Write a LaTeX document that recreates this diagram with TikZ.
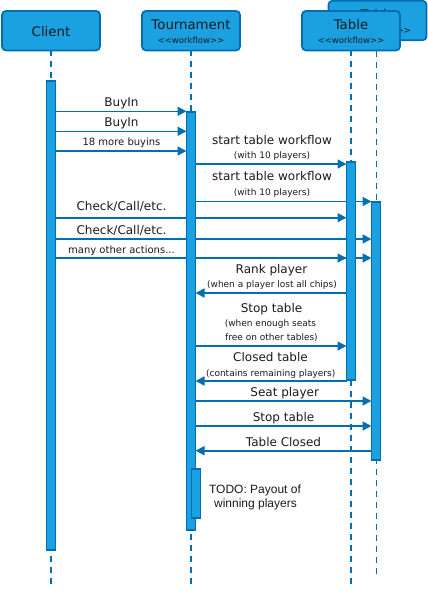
\documentclass[tikz,border=0pt]{standalone}
\usepackage{fontspec}
\setmainfont{DejaVu Sans}
\newfontfamily\stfont[Ligatures=TeXOff]{DejaVu Sans}
\newfontfamily\arialfont{Liberation Sans}
\usetikzlibrary{arrows.meta}
\definecolor{fillblue}{HTML}{1BA1E2}
\definecolor{strokeblue}{HTML}{006EAF}
\definecolor{txt}{HTML}{1A1A1A}
\newcommand{\stereotext}{<\kern0pt<workflow>\kern0pt>}
\tikzset{
 headbox/.style={draw=strokeblue, fill=fillblue, line width=1.8pt, rounded corners=4pt, minimum width=98pt, minimum height=39.5pt, inner sep=0, outer sep=0},
 actbox/.style={draw=strokeblue, fill=fillblue, line width=1.8pt, minimum width=9pt, inner sep=0, outer sep=0},
 lifeline/.style={draw=strokeblue, line width=1.8pt, dash pattern=on 6pt off 5pt},
 msg/.style={draw=strokeblue, line width=1.6pt, -{Triangle[length=9pt,width=9pt]}},
 lbl/.style={font=\fontsize{12}{14}\selectfont, text=txt, anchor=base, inner sep=0},
 sml/.style={font=\fontsize{9}{11}\selectfont, text=txt, anchor=base, inner sep=0},
 midl/.style={font=\fontsize{10}{12}\selectfont, text=txt, anchor=base, inner sep=0},
 hdr/.style={font=\fontsize{13.3}{16}\selectfont, text=txt, anchor=base, inner sep=0},
 stereo/.style={font=\stfont\fontsize{8.5}{10}\selectfont, text=txt, anchor=base, inner sep=0},
 note/.style={font=\arialfont\fontsize{12}{14}\selectfont, text=txt, anchor=base, inner sep=0},
}
\begin{document}
\begin{tikzpicture}[x=1pt, y=-1pt]
\useasboundingbox (0,0) rectangle (428,592);
% lifeline end points
\coordinate (eC) at (51,585);
\coordinate (eT) at (191,585);
\coordinate (eTf) at (351,585);
\coordinate (eTb) at (376.5,575);
% header boxes (back table first)
\node[headbox] (hTb) at (377.5,20.5) {};
\node[stereo] (sTb) at (377.5,33.3) {\stereotext};
\node[hdr] (tTb) at (377.5,19.3) {Table};
\draw[lifeline] (hTb.south -| eTb) -- (eTb);
\draw[lifeline] (51,50.3) -- (eC);
\draw[lifeline] (191,50.3) -- (eT);
\draw[lifeline] (351,50.3) -- (eTf);
% activation nodes (geometry)
\node[actbox, minimum height=469pt] (aC) at (51,315.5) {};
\node[actbox, minimum height=418.4pt] (aT) at (191,320.8) {};
\node[actbox, minimum height=218.4pt] (aTf) at (351,270.8) {};
\node[actbox, minimum height=258.4pt] (aTb) at (376,330.8) {};
% message heights
\coordinate (m1) at (0,111.3);
\coordinate (m2) at (0,131.3);
\coordinate (m3) at (0,151);
\coordinate (m4) at (0,164);
\coordinate (m5) at (0,201.5);
\coordinate (m6) at (0,217.7);
\coordinate (m7) at (0,239);
\coordinate (m8) at (0,258);
\coordinate (m9) at (0,293);
\coordinate (m10) at (0,346);
\coordinate (m11) at (0,381);
\coordinate (m12) at (0,401);
\coordinate (m13) at (0,426);
\coordinate (m14) at (0,450.7);
% messages
\draw[msg] (aC.east |- m1) -- (aT.west |- m1);
\draw[msg] (aC.east |- m2) -- (aT.west |- m2);
\draw[msg] (aC.east |- m3) -- (aT.west |- m3);
\draw[msg] (aT.east |- m4) -- (aTf.west |- m4);
\draw[msg] (aT.east |- m5) -- (aTb.west |- m5);
\draw[msg] (aC.east |- m6) -- (aTf.west |- m6);
\draw[msg] (aC.east |- m7) -- (aTb.west |- m7);
\draw[msg] (aC.east |- m8) -- (aTb.west |- m8);
\draw[msg] (aC.east |- m8) -- (aTf.west |- m8);
\draw[msg] (aTf.west |- m9) -- (aT.east |- m9);
\draw[msg] (aT.east |- m10) -- (aTf.west |- m10);
\draw[msg] (aTf.west |- m11) -- (aT.east |- m11);
\draw[msg] (aT.east |- m12) -- (aTb.west |- m12);
\draw[msg] (aT.east |- m13) -- (aTb.west |- m13);
\draw[msg] (aTb.west |- m14) -- (aT.east |- m14);
% activations drawn over messages
\node[actbox, minimum height=469pt] at (aC) {};
\node[actbox, minimum height=418.4pt] at (aT) {};
\node[actbox, minimum height=218.4pt] at (aTf) {};
\node[actbox, minimum height=258.4pt] at (aTb) {};
\node[actbox, minimum height=49pt] (aN) at (196,493.5) {};
% labels
\node[lbl] (l1) at (121.5,106) {BuyIn};
\node[lbl] (l2) at (121.5,126) {BuyIn};
\node[midl] (l3) at (121.5,145.7) {18 more buyins};
\node[lbl] (l4) at (272,144) {start table workflow};
\node[sml] (l4b) at (272,158.7) {(with 10 players)};
\node[lbl] (l5) at (272,180.7) {start table workflow};
\node[sml] (l5b) at (272,195.3) {(with 10 players)};
\node[lbl] (l6) at (121.5,210.7) {Check/Call/etc.};
\node[lbl] (l7) at (121.5,234) {Check/Call/etc.};
\node[midl] (l8) at (121.5,253.3) {many other actions...};
\node[lbl] (l9) at (271.5,273.3) {Rank player};
\node[sml] (l9b) at (272,287.3) {(when a player lost all chips)};
\node[lbl] (l10) at (271.5,312) {Stop table};
\node[sml] (l10b) at (270.5,326.7) {(when enough seats};
\node[sml] (l10c) at (271.5,340) {free on other tables)};
\node[lbl] (l11) at (270.5,361) {Closed table};
\node[sml] (l11b) at (270.7,376) {(contains remaining players)};
\node[lbl] (l12) at (284.7,396) {Seat player};
\node[lbl] (l13) at (283.5,421) {Stop table};
\node[lbl] (l14) at (283.5,446) {Table Closed};
\node[note] (n1) at (255,493.3) {TODO: Payout of};
\node[note] (n2) at (255.5,507.7) {winning players};
% front header boxes
\node[headbox] (hC) at (51,30.7) {};
\node[hdr] (tC) at (51,36.7) {Client};
\node[headbox] (hT) at (191,30.7) {};
\node[hdr] (tT) at (191,29.3) {Tournament};
\node[stereo] (sT) at (191,43.3) {\stereotext};
\node[headbox] (hTf) at (351,30.7) {};
\node[hdr] (tTf) at (351,29.3) {Table};
\node[stereo] (sTf) at (351,43.3) {\stereotext};
\end{tikzpicture}
\end{document}
